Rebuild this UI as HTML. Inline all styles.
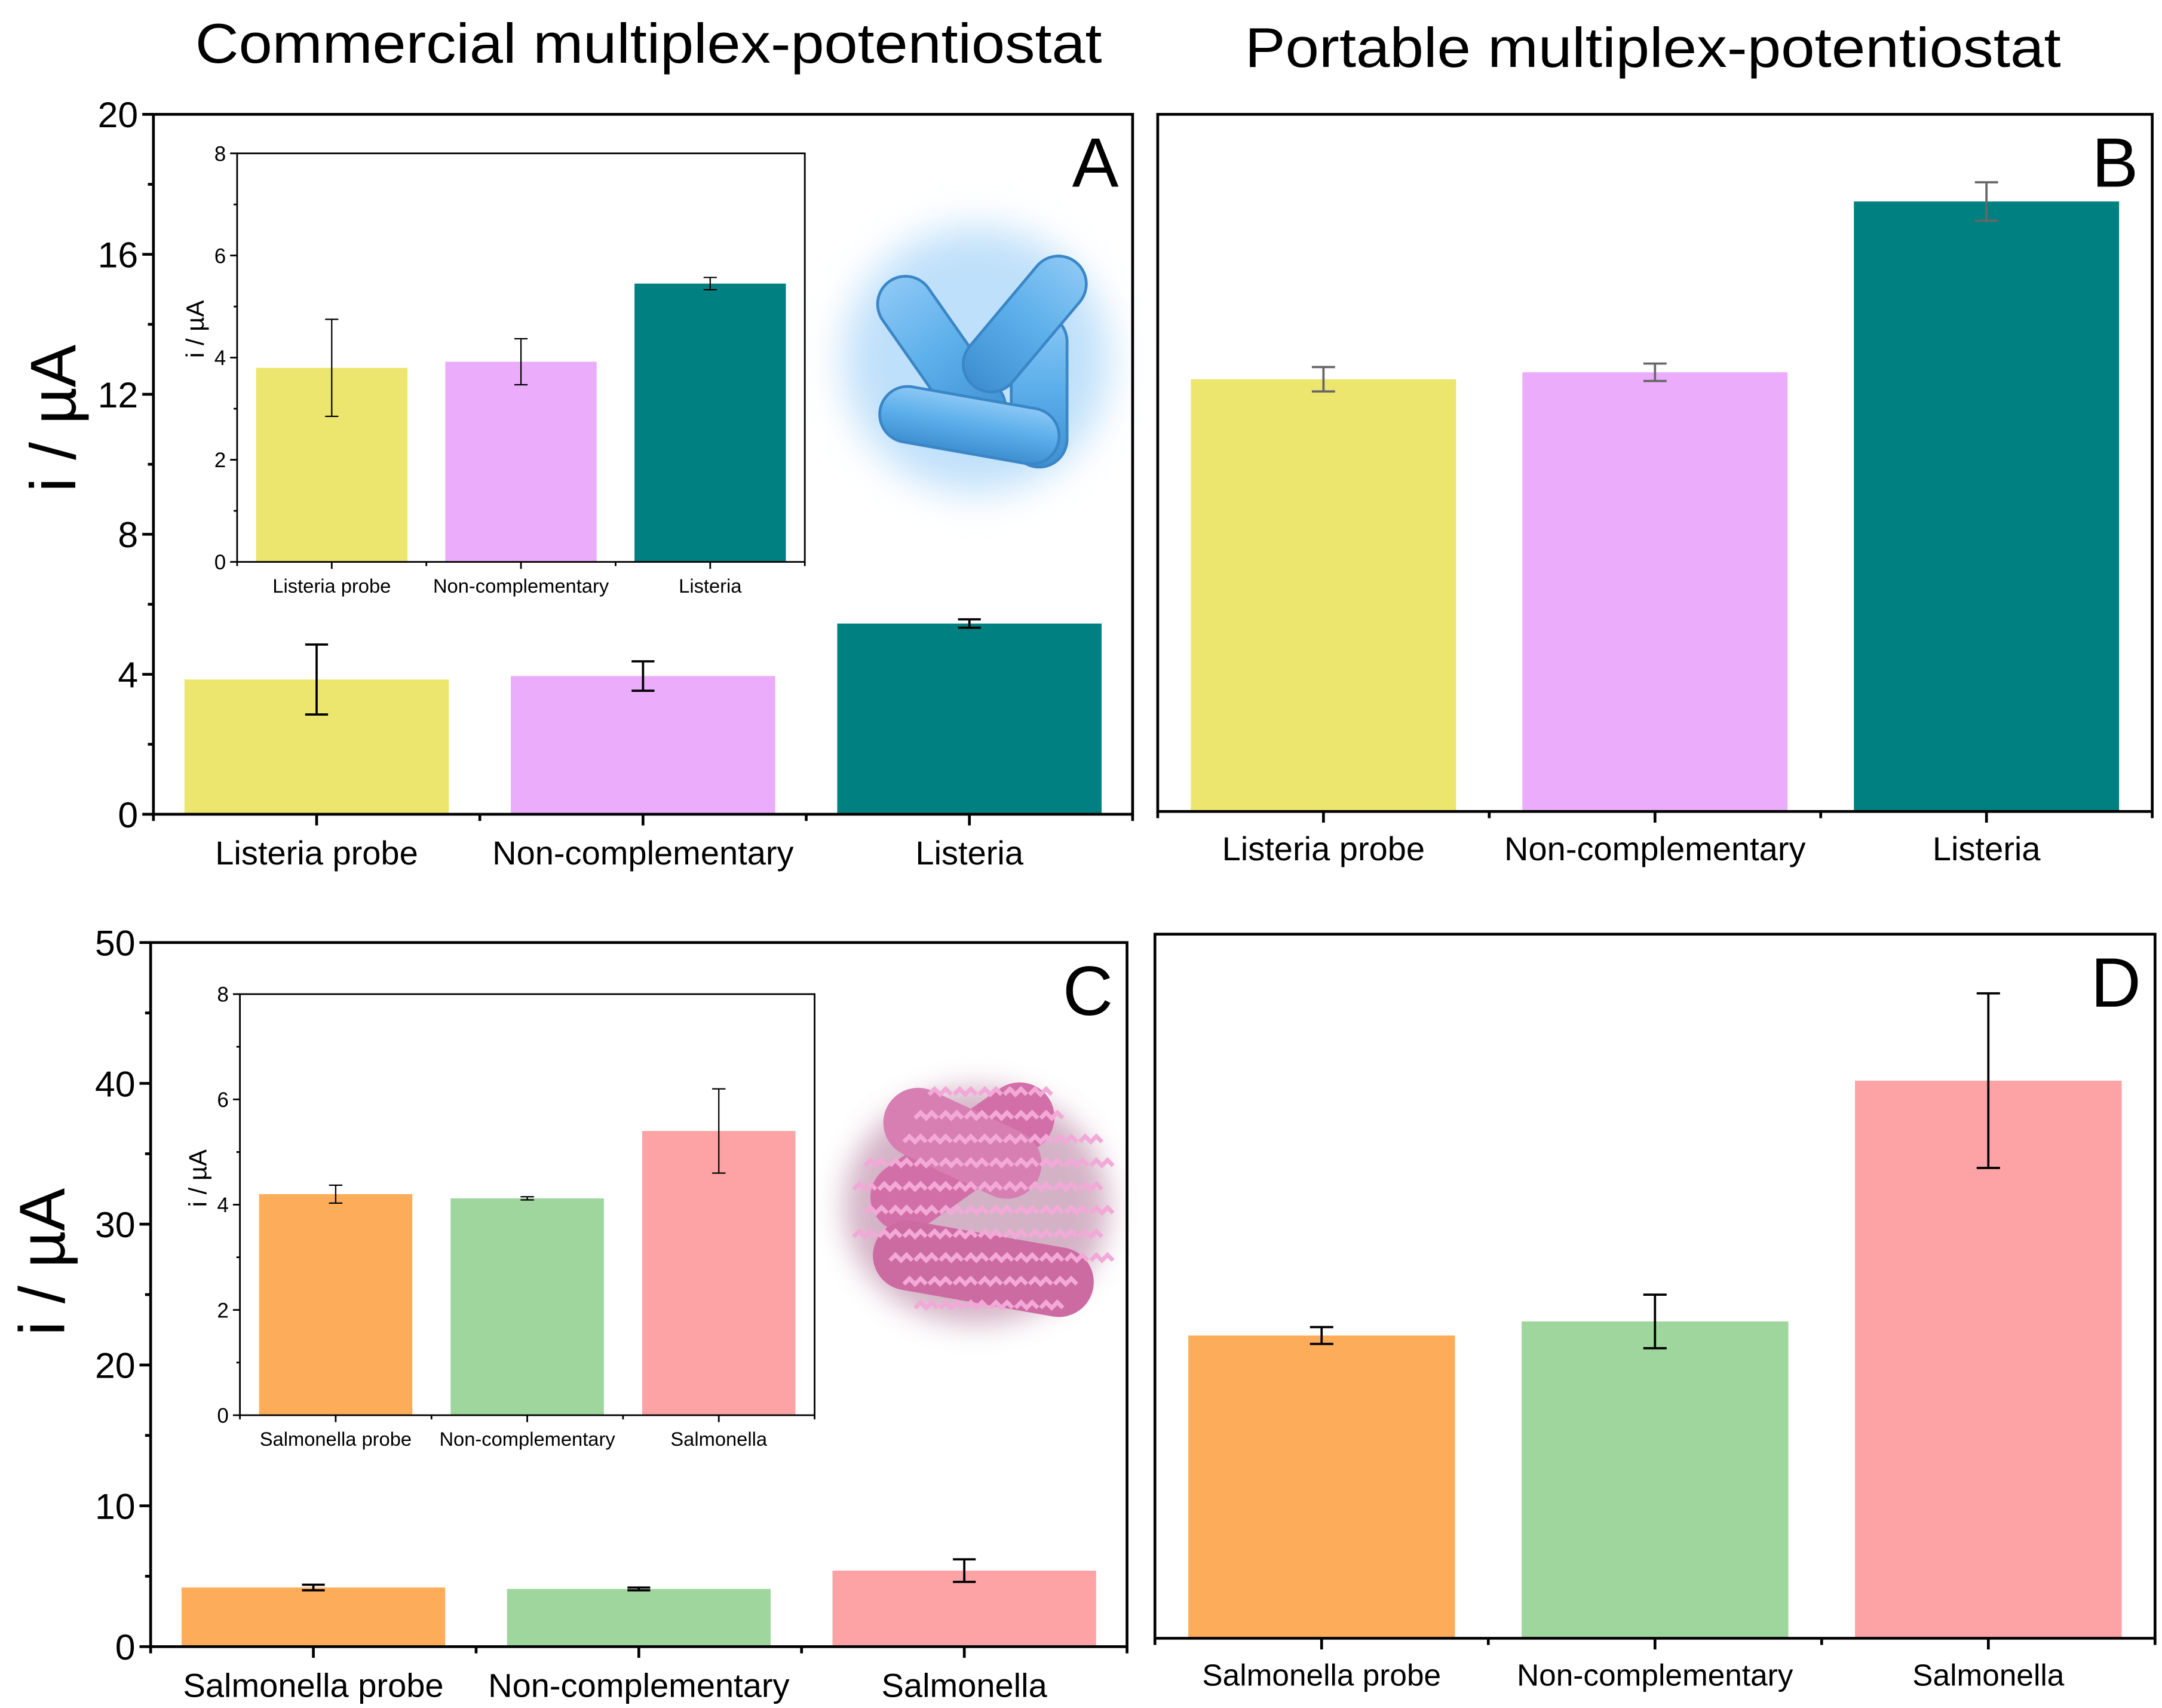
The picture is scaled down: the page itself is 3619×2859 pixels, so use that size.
<!DOCTYPE html>
<html><head><meta charset="utf-8">
<style>
html,body{margin:0;padding:0;background:#fff;}
svg{display:block;}
text{font-family:"Liberation Sans",sans-serif;}
</style></head>
<body>
<svg id="fig" xmlns="http://www.w3.org/2000/svg" width="3619" height="2859" viewBox="0 0 1550 1225" preserveAspectRatio="none">
<defs>
<filter id="blurBlue" x="-50%" y="-50%" width="200%" height="200%"><feGaussianBlur stdDeviation="14"/></filter>
<filter id="blurPink" x="-50%" y="-50%" width="200%" height="200%"><feGaussianBlur stdDeviation="10"/></filter>
<linearGradient id="rod" x1="0" y1="0" x2="0" y2="1"><stop offset="0" stop-color="#8cc8f5"/><stop offset="0.5" stop-color="#5aaeea"/><stop offset="1" stop-color="#3f8fd0"/></linearGradient>
</defs>
<text x="465" y="45" font-size="40" text-anchor="middle" textLength="650" lengthAdjust="spacingAndGlyphs">Commercial multiplex-potentiostat</text>
<text x="1185" y="48" font-size="40" text-anchor="middle" textLength="585" lengthAdjust="spacingAndGlyphs">Portable multiplex-potentiostat</text>

<g>
  <ellipse cx="700" cy="258" rx="95" ry="95" fill="#bfe0fa" filter="url(#blurBlue)"/>
  <rect x="655" y="190" width="40" height="130" rx="20" fill="url(#rod)" stroke="#3a86c6" stroke-width="2" transform="rotate(-35 675 255)"/>
  <rect x="725" y="225" width="40" height="110" rx="20" fill="url(#rod)" stroke="#3a86c6" stroke-width="2"/>
  <rect x="630" y="285" width="130" height="40" rx="20" fill="url(#rod)" stroke="#3a86c6" stroke-width="2" transform="rotate(10 695 305)"/>
  <rect x="715" y="175" width="40" height="115" rx="20" fill="url(#rod)" stroke="#3a86c6" stroke-width="2" transform="rotate(40 735 232)"/>
</g>
<g>
  <ellipse cx="700" cy="865" rx="95" ry="85" fill="#c9a0b8" filter="url(#blurPink)" opacity="0.8"/>
  <rect x="615" y="805" width="150" height="50" rx="25" fill="#d26fa8" transform="rotate(-35 690 830)"/>
  <rect x="625" y="885" width="160" height="50" rx="25" fill="#cc6aa2" transform="rotate(10 705 910)"/>
  <rect x="630" y="795" width="120" height="50" rx="25" fill="#d77fb3" transform="rotate(25 690 820)"/>
  <g id="squig" fill="none" stroke="#f3a9d8" stroke-width="3"></g>
</g>
<g id="charts"></g>
</svg>
<script>
const catsListeria = ["Listeria probe", "Non-complementary", "Listeria"];
const catsSalmonella = ["Salmonella probe", "Non-complementary", "Salmonella"];
const valsA = [3.85, 3.95, 5.45];
const errA = [1.0, 0.42, 0.12];
const valsAInset = [3.8, 3.92, 5.45];
const errAInset = [0.95, 0.45, 0.12];
const valsB = [12.4, 12.6, 17.5];
const errB = [0.35, 0.25, 0.55];
const valsC = [4.2, 4.1, 5.4];
const errC = [0.2, 0.1, 0.8];
const valsCInset = [4.2, 4.12, 5.4];
const errCInset = [0.17, 0.03, 0.8];
const valsD = [21.5, 22.5, 39.6];
const errD = [0.6, 1.9, 6.2];
const ticksA = [0, 4, 8, 12, 16, 20];
const ticksC = [0, 10, 20, 30, 40, 50];
const ticksInset = [0, 2, 4, 6, 8];
const colorsL = ["#ECE56E", "#EBADFB", "#008080"];
const colorsS = ["#FDAC5A", "#9ED69D", "#FEA3A5"];

const NS = "http://www.w3.org/2000/svg";
const root = document.getElementById("charts");
function mk(tag, attrs, parent) {
  const e = document.createElementNS(NS, tag);
  for (const k in attrs) e.setAttribute(k, attrs[k]);
  (parent || root).appendChild(e);
  return e;
}
function panel(p) {
  const g = mk("g", {});
  
  
  const y = v => p.y1 - (v - p.min) / (p.max - p.min) * (p.y1 - p.y0);
  const bw = (p.x1 - p.x0) / 3;
  const sw = p.sw;
  p.vals.forEach((v, i) => {
    const cx = p.x0 + bw * (i + 0.5);
    const r = mk("rect", {x: cx - bw * p.fill / 2, y: y(v), width: bw * p.fill, height: y(p.min) - y(v), fill: p.colors[i]}, g);
    
    
    const e = p.errs[i], cap = bw * 0.035;
    const eg = mk("g", {stroke: p.errColor, "stroke-width": sw * 0.8, fill: "none"}, g);
    
    
    mk("line", {x1: cx, x2: cx, y1: y(v - e), y2: y(v + e)}, eg);
    mk("line", {x1: cx - cap, x2: cx + cap, y1: y(v - e), y2: y(v - e)}, eg);
    mk("line", {x1: cx - cap, x2: cx + cap, y1: y(v + e), y2: y(v + e)}, eg);
    mk("line", {x1: cx, x2: cx, y1: p.y1, y2: p.y1 + p.tick, stroke: "#000", "stroke-width": sw}, g);
    const t = mk("text", {x: cx, y: p.y1 + p.lblOff, "font-size": p.lblSize, "text-anchor": "middle"}, g);
    t.textContent = p.cats[i];
    
    
  });
  for (let i = 0; i <= 3; i++) {
    const xx = p.x0 + bw * i;
    mk("line", {x1: xx, x2: xx, y1: p.y1, y2: p.y1 + p.tick * 0.6, stroke: "#000", "stroke-width": sw}, g);
  }
  const f = mk("rect", {x: p.x0, y: p.y0, width: p.x1 - p.x0, height: p.y1 - p.y0, fill: "none", stroke: "#000", "stroke-width": sw}, g);
  
  
  if (p.ticks) {
    const step = p.ticks[1] - p.ticks[0];
    p.ticks.forEach((tv, i) => {
      mk("line", {x1: p.x0 - p.tick, x2: p.x0, y1: y(tv), y2: y(tv), stroke: "#000", "stroke-width": sw}, g);
      if (i < p.ticks.length - 1) mk("line", {x1: p.x0 - p.tick * 0.5, x2: p.x0, y1: y(tv + step / 2), y2: y(tv + step / 2), stroke: "#000", "stroke-width": sw}, g);
      const t = mk("text", {x: p.x0 - p.tick - 3, y: y(tv) + p.tickSize * 0.36, "font-size": p.tickSize, "text-anchor": "end"}, g);
      t.textContent = tv;
      
      
    });
  }
  if (p.ytitle) {
    const t = mk("text", {x: 0, y: 0, "font-size": p.ytitle.size, "text-anchor": "middle", transform: `translate(${p.ytitle.x},${p.ytitle.y}) rotate(-90)`}, g);
    t.textContent = "i / µA";
    
    
  }
  if (p.letter) {
    const t = mk("text", {x: p.x1 - 10, y: p.y0 + 52, "font-size": 50, "text-anchor": "end"}, g);
    t.textContent = p.letter;
    
    
  }
}
panel({name: "panel-a-chart", x0: 110, x1: 812, y0: 82, y1: 584, min: 0, max: 20, vals: valsA, errs: errA, cats: catsListeria, colors: colorsL, fill: 0.81, errColor: "#000", sw: 2, tick: 8, ticks: ticksA, tickSize: 26, lblSize: 24, lblOff: 36, ytitle: {x: 54, y: 300, size: 46}, letter: "A"});
panel({name: "panel-a-inset", x0: 170, x1: 577, y0: 110, y1: 403, min: 0, max: 8, vals: valsAInset, errs: errAInset, cats: catsListeria, colors: colorsL, fill: 0.8, errColor: "#000", sw: 1.2, tick: 5, ticks: ticksInset, tickSize: 15, lblSize: 14, lblOff: 22, ytitle: {x: 146, y: 236, size: 18}});
panel({name: "panel-b-chart", x0: 830, x1: 1543, y0: 82, y1: 582, min: 0, max: 20, vals: valsB, errs: errB, cats: catsListeria, colors: colorsL, fill: 0.8, errColor: "#666", sw: 2, tick: 8, lblSize: 24, lblOff: 35, letter: "B"});
panel({name: "panel-c-chart", x0: 108, x1: 808, y0: 676, y1: 1181, min: 0, max: 50, vals: valsC, errs: errC, cats: catsSalmonella, colors: colorsS, fill: 0.81, errColor: "#000", sw: 2, tick: 8, ticks: ticksC, tickSize: 26, lblSize: 24, lblOff: 36, ytitle: {x: 46, y: 905, size: 46}, letter: "C"});
panel({name: "panel-c-inset", x0: 172, x1: 584, y0: 713, y1: 1015, min: 0, max: 8, vals: valsCInset, errs: errCInset, cats: catsSalmonella, colors: colorsS, fill: 0.8, errColor: "#000", sw: 1.2, tick: 5, ticks: ticksInset, tickSize: 15, lblSize: 14, lblOff: 22, ytitle: {x: 148, y: 845, size: 18}});
panel({name: "panel-d-chart", x0: 828, x1: 1545, y0: 670, y1: 1175, min: 0, max: 50, vals: valsD, errs: errD, cats: catsSalmonella, colors: colorsS, fill: 0.8, errColor: "#000", sw: 2, tick: 8, lblSize: 22, lblOff: 34, letter: "D"});

const sq = document.getElementById("squig");
for (let r = 0; r < 10; r++) for (let c = 0; c < 10; c++) {
  const x = 612 + c * 18 + (r % 2) * 8, yy = 785 + r * 17;
  if (Math.abs(x - 705) + Math.abs(yy - 865) * 0.9 > 115) continue;
  mk("path", {d: `M${x} ${yy} l4 -4 l4 4 l4 -4 l4 4`}, sq);
}
</script>
</body></html>
